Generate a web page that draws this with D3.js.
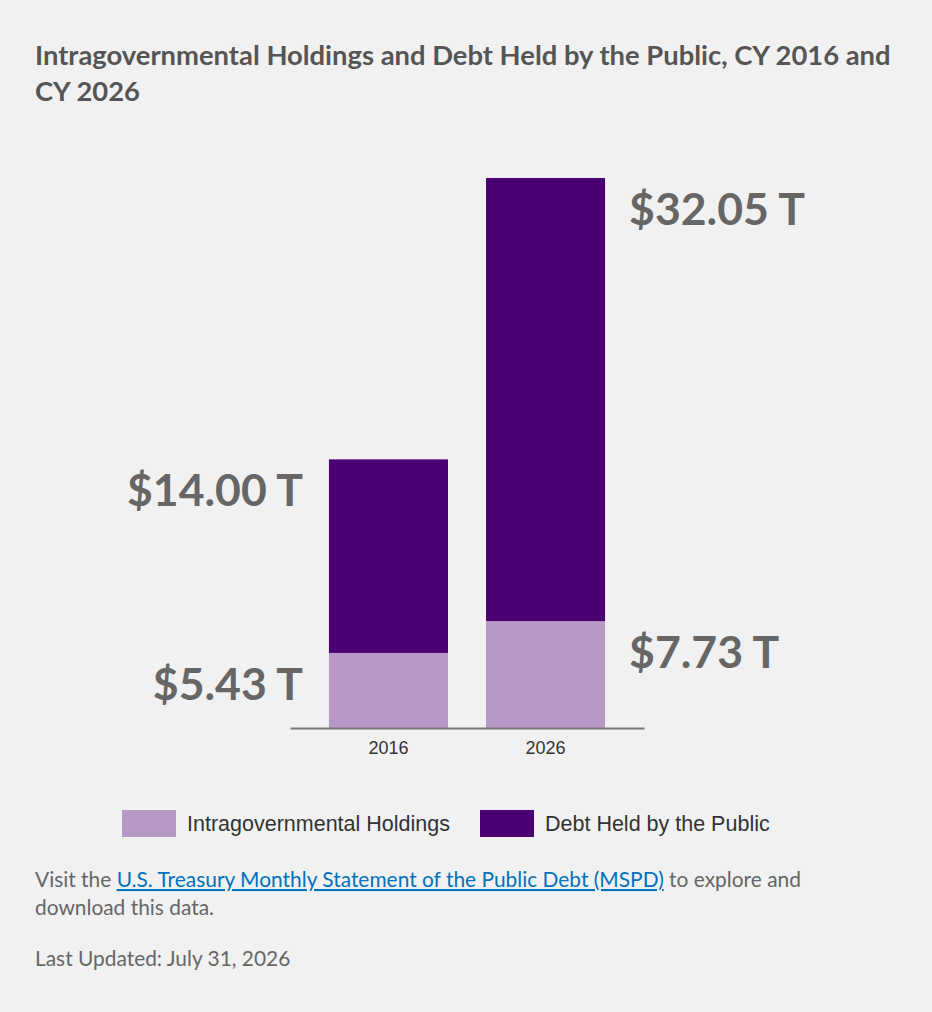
<!DOCTYPE html>
<html>
<head>
<meta charset="utf-8">
<script src="https://cdn.jsdelivr.net/npm/d3@7"></script>
<style>
    html, body { margin: 0; padding: 0; background: #f1f1f1; }
    svg { display: block; }
</style>
</head>
<body>
<svg id="debt_chart" width="932" height="1012"></svg>
<script>
// chart data
const years            = ["2016", "2026"];
const intragovHoldings = [5.43, 7.73];
const debtHeldByPublic = [14.00, 32.05];
const seriesKeys       = ["intragov", "public"];
const seriesNames      = ["Intragovernmental Holdings", "Debt Held by the Public"];

const titleLines = ["Intragovernmental Holdings and Debt Held by the Public, CY 2016 and",
                    "CY 2026"];
const noteBefore = "Visit the ";
const noteLink   = "U.S. Treasury Monthly Statement of the Public Debt (MSPD)";
const noteAfter  = " to explore and";
const noteLine2  = "download this data.";
const updated    = "Last Updated: July 31, 2026";

const colors = { intragov: "#b699c6", public: "#4a0072" };

// build the table the stack layout needs
const table = years.map((y, i) => ({ year: y, intragov: intragovHoldings[i], public: debtHeldByPublic[i] }));
const stacked = d3.stack().keys(seriesKeys)(table);

const svg = d3.select("#debt_chart");
const headFont = "Lato, 'Open Sans', sans-serif";
const arial    = "'Liberation Sans', Arial, sans-serif";

// shrink/grow a text node so it spans a given width (fonts differ from the original)
function fitWidth(sel, target)
{
    let fs = parseFloat(sel.attr("font-size"));
    let w  = sel.node().getComputedTextLength();
    sel.attr("font-size", (fs * target / w).toFixed(2));
    return fs * target / w;
}

// title
const title = svg.append("text")
    .attr("font-family", headFont)
    .attr("font-weight", 700)
    .attr("font-size", 26)
    .attr("fill", "#555");
titleLines.forEach((t, i) =>
{
    title.append("tspan").attr("x", 35).attr("y", 65 + i * 36).text(t);
});
// fit on the first (long) line
const probe = svg.append("text").attr("font-family", headFont).attr("font-weight", 700)
    .attr("font-size", 26).text(titleLines[0]);
title.attr("font-size", fitWidth(probe, 856));
probe.remove();

// scales
const x = d3.scaleBand()
    .domain(years)
    .range([290, 644])
    .paddingInner(0.242)
    .paddingOuter(0.248);

const yMax = d3.max(table, d => d.intragov + d.public);
const y = d3.scaleLinear()
    .domain([0, yMax])
    .range([728, 178]);

// bars
const chart = svg.append("g").attr("id", "bars");
chart.selectAll(".layer").data(stacked)
    .enter().append("g")
        .attr("class", "layer")
        .attr("fill", d => colors[d.key])
    .selectAll("rect").data(d => d)
    .enter().append("rect")
        .attr("x",      d => x(d.data.year))
        .attr("width",  x.bandwidth())
        .attr("y",      d => y(d[1]))
        .attr("height", d => y(d[0]) - y(d[1]));

// axis
const axisX = d3.axisBottom(x).tickSize(0).tickSizeOuter(0).tickPadding(13.2);
const gx = svg.append("g")
    .attr("transform", "translate(0,728)")
    .call(axisX);
gx.select(".domain").attr("stroke", "#777").attr("stroke-width", 2);
gx.selectAll("text")
    .attr("font-family", arial)
    .attr("font-size", 18)
    .attr("fill", "#333");

// value labels: 2016 to the left of its bar, 2026 to the right
const labels = [];
stacked.forEach(layer =>
{
    layer.forEach((d, i) =>
    {
        labels.push({ year: d.data.year, top: d[1], value: d.data[layer.key], left: i === 0 });
    });
});
const valueLabels = svg.selectAll(".value_label").data(labels)
    .enter().append("text")
        .attr("class", "value_label")
        .attr("font-family", headFont)
        .attr("font-weight", 700)
        .attr("font-size", 46)
        .attr("fill", "#666")
        .attr("text-anchor", d => d.left ? "end" : "start")
        .attr("x", d => d.left ? x(d.year) - 26 : x(d.year) + x.bandwidth() + 24)
        .attr("y", d => y(d.top) + 47)
        .text(d => "$" + d3.format(".2f")(d.value) + " T");
const labelSize = fitWidth(valueLabels.filter(d => d.value === 14.00), 176);
valueLabels.attr("font-size", labelSize);

// legend
const legendX = [122, 480];
const legend = svg.selectAll(".legend_item").data(seriesKeys)
    .enter().append("g")
        .attr("class", "legend_item")
        .attr("transform", (d, i) => `translate(${legendX[i]},810)`);
legend.append("rect")
    .attr("width", 54)
    .attr("height", 27)
    .attr("fill", d => colors[d]);
legend.append("text")
    .attr("x", 65)
    .attr("y", 21)
    .attr("font-family", arial)
    .attr("font-size", 21.5)
    .attr("fill", "#333")
    .text((d, i) => seriesNames[i]);

// footnote
const note = svg.append("text")
    .attr("font-family", headFont)
    .attr("font-size", 19)
    .attr("fill", "#666")
    .attr("x", 35)
    .attr("y", 887);
note.append("tspan").text(noteBefore);
note.append("tspan").attr("fill", "#0071bc").attr("text-decoration", "underline").text(noteLink);
note.append("tspan").text(noteAfter);
const noteSize = fitWidth(note, 766);

svg.append("text")
    .attr("font-family", headFont)
    .attr("font-size", noteSize)
    .attr("fill", "#666")
    .attr("x", 35)
    .attr("y", 915)
    .text(noteLine2);

svg.append("text")
    .attr("font-family", headFont)
    .attr("font-size", noteSize)
    .attr("fill", "#666")
    .attr("x", 35)
    .attr("y", 966)
    .text(updated);
</script>
</body>
</html>
